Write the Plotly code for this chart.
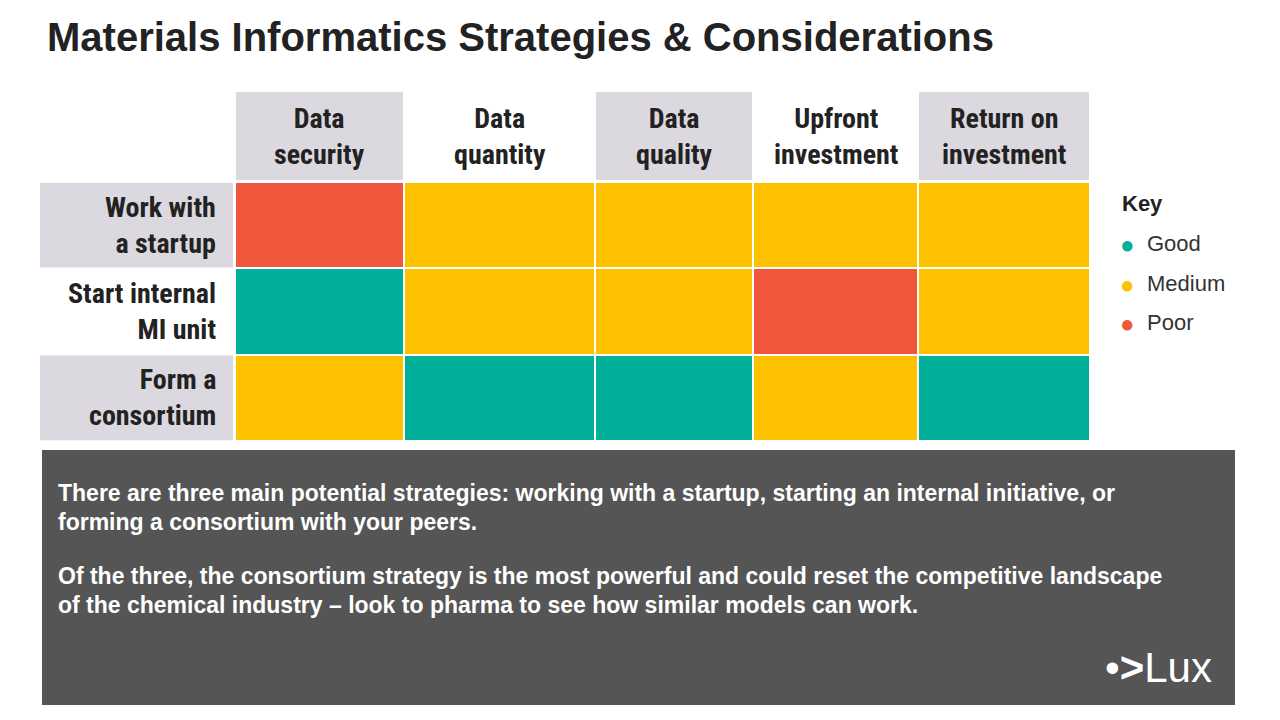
import plotly.graph_objects as go

columns = ["Data<br>security", "Data<br>quantity", "Data<br>quality", "Upfront<br>investment", "Return on<br>investment"]
rows = ["Work with<br>a startup", "Start internal<br>MI unit", "Form a<br>consortium"]
# 0 = Good, 1 = Medium, 2 = Poor
ratings = [
    [2, 1, 1, 1, 1],
    [0, 1, 1, 2, 1],
    [1, 0, 0, 1, 0],
]
key_labels = ["Good", "Medium", "Poor"]
key_colors = ["#00b09b", "#fdc100", "#f0563a"]

W, H = 1280, 720
def px(x): return (x - 8) / W
def py(y): return 1 - (y - 8) / H

# column boundaries (layout, in reference pixels)
col_edges = [235, 404, 595, 753, 918, 1090]
col_mid = [(a + b) / 2 for a, b in zip(col_edges[:-1], col_edges[1:])]
yi = list(range(len(rows)))

fig = go.Figure(go.Heatmap(
    z=ratings, x=col_edges, y=yi, zmin=0, zmax=2,
    colorscale=[[0, key_colors[0]], [0.333, key_colors[0]], [0.333, key_colors[1]],
                [0.666, key_colors[1]], [0.666, key_colors[2]], [1, key_colors[2]]],
    showscale=False, xgap=2, ygap=2, hoverinfo="skip"))

cond = "Liberation Sans Narrow, Roboto Condensed, Arial Narrow, sans-serif"
shapes = []
ann = []
for i, c in enumerate(columns):
    if i % 2 == 0:
        shapes.append(dict(type="rect", xref="x", yref="paper", x0=col_edges[i] + 1, x1=col_edges[i + 1] - 1,
                           y0=py(180), y1=py(92), fillcolor="#dcd8e0", line_width=0, layer="below"))
    ann.append(dict(x=col_mid[i], y=py(136), xref="x", yref="paper", text="<b>" + c + "</b>", showarrow=False,
                    font=dict(family=cond, size=28, color="#222"), yanchor="middle"))
for j, r in enumerate(rows):
    if j % 2 == 0:
        shapes.append(dict(type="rect", xref="paper", yref="y", x0=px(40), x1=px(233),
                           y0=j - 0.5 + 0.01, y1=j + 0.5 - 0.01, fillcolor="#dcd8e0", line_width=0, layer="below"))
    ann.append(dict(x=px(218), y=j, xref="paper", yref="y", text="<b>" + r + "</b>", showarrow=False, align="right",
                    xanchor="right", yanchor="middle", font=dict(family=cond, size=28, color="#222")))

# Key
ann.append(dict(x=px(1120), y=py(204), xref="paper", yref="paper", text="<b>Key</b>", showarrow=False,
                xanchor="left", yanchor="middle", font=dict(family="Liberation Sans, Arial", size=22, color="#222")))
for k, (lab, col) in enumerate(zip(key_labels, key_colors)):
    yy = 244 + k * 39
    ann.append(dict(x=px(1118), y=py(yy), xref="paper", yref="paper", text="●", showarrow=False,
                    xanchor="left", yanchor="middle", font=dict(size=24, color=col)))
    ann.append(dict(x=px(1145), y=py(yy), xref="paper", yref="paper", text=lab, showarrow=False,
                    xanchor="left", yanchor="middle", font=dict(family="Liberation Sans, Arial", size=22, color="#333")))

# Dark box
shapes.append(dict(type="rect", xref="paper", yref="paper", x0=px(42), x1=px(1235), y0=py(705), y1=py(450),
                   fillcolor="#555555", line_width=0))
txt_font = dict(family="Liberation Sans, Arial", size=23, color="white")
lines = [
    ("There are three main potential strategies: working with a startup, starting an internal initiative, or", 493),
    ("forming a consortium with your peers.", 522),
    ("Of the three, the consortium strategy is the most powerful and could reset the competitive landscape", 576),
    ("of the chemical industry – look to pharma to see how similar models can work.", 605),
]
for t, yy in lines:
    ann.append(dict(x=px(56), y=py(yy), xref="paper", yref="paper", text="<b>" + t + "</b>", showarrow=False,
                    align="left", xanchor="left", yanchor="middle", font=txt_font))
ann.append(dict(x=px(1214), y=py(667), xref="paper", yref="paper", text="•<b>&gt;</b>Lux", showarrow=False,
                xanchor="right", yanchor="middle", font=dict(family="Liberation Sans, Arial", size=42, color="white")))

ann.append(dict(x=px(45), y=py(37), xref="paper", yref="paper", text="<b>Materials Informatics Strategies &amp; Considerations</b>",
                showarrow=False, xanchor="left", yanchor="middle", font=dict(family="Liberation Sans, Arial", size=40, color="#222")))

fig.update_layout(
    width=W, height=H, margin=dict(l=0, r=0, t=0, b=0),
    paper_bgcolor="white", plot_bgcolor="white",
    xaxis=dict(domain=[px(235), px(1090)], range=[235, 1090], visible=False),
    yaxis=dict(domain=[py(441), py(182)], range=[2.5, -0.5], visible=False),
    shapes=shapes, annotations=ann, showlegend=False)
fig.write_html("out.html")
